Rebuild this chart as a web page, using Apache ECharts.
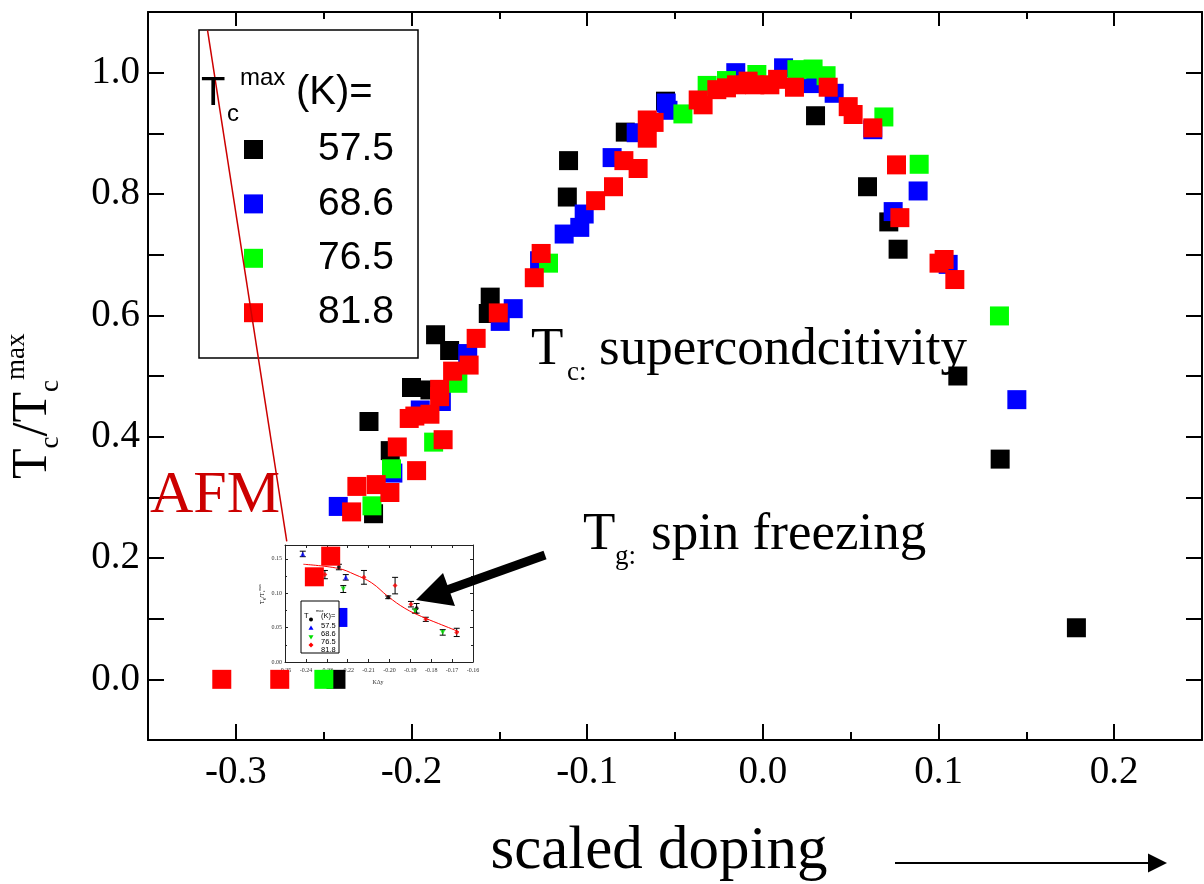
<!DOCTYPE html>
<html>
<head>
<meta charset="utf-8">
<script src="https://cdn.jsdelivr.net/npm/echarts@6/dist/echarts.min.js"></script>
<style>
  html, body { margin: 0; padding: 0; background: #fff; }
  #chart { width: 1204px; height: 884px; }
</style>
</head>
<body>
<div id="chart"></div>
<script>
// ---- main panel: Tc / Tc_max versus scaled doping, one array per Tc_max (K) ----
const seriesNames = ['57.5', '68.6', '76.5', '81.8'];
const seriesColors = ['#000000', '#0000ff', '#00ff00', '#ff0000'];

const pts575 = [
  [-0.243, 0.000], [-0.2216, 0.273], [-0.2121, 0.377], [-0.2242, 0.425], [-0.2000, 0.481], [-0.1895, 0.477],
  [-0.1863, 0.568], [-0.1783, 0.542], [-0.1563, 0.603], [-0.1552, 0.630], [-0.1113, 0.795], [-0.1106, 0.855],
  [-0.0783, 0.902], [-0.0554, 0.953], [0.0300, 0.929], [0.0596, 0.812], [0.0717, 0.754], [0.0770, 0.709],
  [0.1110, 0.500], [0.1351, 0.363], [0.1785, 0.085]
];
const pts686 = [
  [-0.2419, 0.102], [-0.2417, 0.285], [-0.2106, 0.340], [-0.1950, 0.444], [-0.1830, 0.458], [-0.1680, 0.537],
  [-0.1495, 0.590], [-0.1421, 0.611], [-0.1271, 0.690], [-0.1131, 0.734], [-0.1042, 0.745], [-0.1017, 0.767],
  [-0.0858, 0.860], [-0.0721, 0.901], [-0.0550, 0.950], [-0.0540, 0.938], [-0.0154, 1.000], [0.0118, 1.008],
  [0.0280, 0.982], [0.0406, 0.966], [0.0626, 0.906], [0.0742, 0.771], [0.0884, 0.805], [0.1055, 0.684],
  [0.1446, 0.461]
];
const pts765 = [
  [-0.2499, 0.000], [-0.2225, 0.286], [-0.2114, 0.347], [-0.1874, 0.391], [-0.1736, 0.488], [-0.1220, 0.686],
  [-0.0455, 0.932], [-0.0317, 0.979], [-0.0207, 0.987], [-0.0034, 0.997], [0.0194, 1.005], [0.0286, 1.006],
  [0.0360, 0.995], [0.0689, 0.927], [0.0890, 0.849], [0.1347, 0.599]
];
const pts818 = [
  [-0.308, 0.000], [-0.275, 0.000], [-0.2553, 0.169], [-0.2460, 0.203], [-0.2341, 0.276], [-0.2311, 0.318],
  [-0.2201, 0.321], [-0.2123, 0.308], [-0.2081, 0.383], [-0.1971, 0.344], [-0.2013, 0.430], [-0.1981, 0.434],
  [-0.1895, 0.437], [-0.1820, 0.395], [-0.1840, 0.478], [-0.1840, 0.466], [-0.1766, 0.508], [-0.1672, 0.518],
  [-0.1632, 0.562], [-0.1506, 0.604], [-0.1301, 0.662], [-0.1262, 0.702], [-0.0952, 0.789], [-0.0850, 0.812],
  [-0.0791, 0.855], [-0.0710, 0.842], [-0.0658, 0.892], [-0.0658, 0.922], [-0.0619, 0.918], [-0.0368, 0.955],
  [-0.0340, 0.947], [-0.0262, 0.972], [-0.0207, 0.975], [-0.0150, 0.980], [-0.0084, 0.986], [-0.0046, 0.980],
  [0.0040, 0.980], [0.0084, 0.989], [0.0180, 0.976], [0.0372, 0.976], [0.0486, 0.944], [0.0514, 0.931],
  [0.0626, 0.909], [0.0761, 0.848], [0.0780, 0.761], [0.1003, 0.686], [0.1032, 0.692], [0.1093, 0.659]
];
const seriesPoints = [pts575, pts686, pts765, pts818];

// AFM boundary line (doping, Tc/Tc_max)
const afmBoundary = [[-0.3161, 1.0697], [-0.2710, 0.2275]];

// tick labels
const xMajorTicks = [-0.3, -0.2, -0.1, 0.0, 0.1, 0.2];
const yMajorTicks = [0.0, 0.2, 0.4, 0.6, 0.8, 1.0];

// ---- inset: Tg / Tc_max versus K*dy, [x, y, error] ----
const insetBlack = [[-0.2242, 0.138, 0.004], [-0.2006, 0.094, 0.002], [-0.1870, 0.078, 0.007]];
const insetBlue  = [[-0.2415, 0.157, 0.004], [-0.2209, 0.123, 0.004]];
const insetGreen = [[-0.2221, 0.106, 0.005], [-0.1878, 0.074, 0.003], [-0.1745, 0.043, 0.004]];
const insetRed   = [[-0.2309, 0.127, 0.006], [-0.2122, 0.123, 0.010], [-0.1973, 0.111, 0.012],
                    [-0.1897, 0.084, 0.004], [-0.1826, 0.062, 0.003], [-0.1678, 0.043, 0.006]];
const insetFit   = [[-0.2412, 0.142], [-0.2245, 0.136], [-0.2165, 0.127], [-0.2085, 0.115], [-0.2006, 0.095],
                    [-0.1926, 0.078], [-0.1846, 0.066], [-0.1766, 0.056], [-0.1667, 0.044]];

const SERIF = '"Liberation Serif", "Times New Roman", serif';
const SANS = '"Liberation Sans", Arial, sans-serif';

function near(list, v) { return list.some(m => Math.abs(m - v) < 1e-6); }

// text placed by its baseline
function txt(x, baseline, s, fs, family, color, align) {
  const k = family === SANS ? 0.346 : 0.338;
  return {
    type: 'text', x: x, y: baseline - k * fs, silent: true,
    style: {
      text: s, fontSize: fs, fontFamily: family, fill: color || '#000',
      align: align || 'left', verticalAlign: 'middle',
      textAlign: align || 'left', textVerticalAlign: 'middle'
    }
  };
}

const chart = echarts.init(document.getElementById('chart'), null, { renderer: 'canvas' });

// main plot box
const box = { left: 148, right: 2, top: 12, bottom: 144 };
const mainX = { min: -0.35, max: 0.25 };
const mainY = { min: -0.1, max: 1.1 };
// a second grid spans only the labelled range [-0.3, 0.2] so that its
// interval-0.1 ticks land on the labelled values of the main axis
const pxPerUnit = (1204 - box.left - box.right) / (mainX.max - mainX.min);
const majorBox = {
  left: box.left + (xMajorTicks[0] - mainX.min) * pxPerUnit,
  right: box.right + (mainX.max - xMajorTicks[xMajorTicks.length - 1]) * pxPerUnit,
  top: box.top, bottom: box.bottom
};
const blackLine = { color: '#000', width: 2 };

const xAxes = [
  { // 0 bottom: frame line and short ticks every 0.05
    gridIndex: 0, type: 'value', position: 'bottom', min: mainX.min, max: mainX.max, interval: 0.05,
    axisLine: { show: true, onZero: false, lineStyle: blackLine },
    axisTick: { show: true, inside: true, length: 8, lineStyle: blackLine },
    axisLabel: { show: false }, splitLine: { show: false }
  },
  { // 1 top: frame line and short ticks
    gridIndex: 0, type: 'value', position: 'top', min: mainX.min, max: mainX.max, interval: 0.05,
    axisLine: { show: true, onZero: false, lineStyle: blackLine },
    axisTick: { show: true, inside: true, length: 7, lineStyle: blackLine },
    axisLabel: { show: false }, splitLine: { show: false }
  },
  { // 2 inset bottom
    gridIndex: 1, type: 'value', position: 'bottom', min: -0.25, max: -0.16, interval: 0.01,
    axisLine: { show: true, onZero: false, lineStyle: { color: '#222', width: 1 } },
    axisTick: { show: true, inside: true, length: 3, lineStyle: { color: '#222', width: 1 } },
    axisLabel: { margin: 5, fontFamily: SERIF, fontSize: 6, color: '#333', formatter: v => v.toFixed(2) },
    splitLine: { show: false }
  },
  { // 3 inset top
    gridIndex: 1, type: 'value', position: 'top', min: -0.25, max: -0.16, interval: 0.01,
    axisLine: { show: true, onZero: false, lineStyle: { color: '#222', width: 1 } },
    axisTick: { show: true, inside: true, length: 3, lineStyle: { color: '#222', width: 1 } },
    axisLabel: { show: false }, splitLine: { show: false }
  },
  { // 4 bottom labelled ticks
    gridIndex: 2, type: 'value', position: 'bottom',
    min: xMajorTicks[0], max: xMajorTicks[xMajorTicks.length - 1], interval: 0.1,
    axisLine: { show: false, onZero: false },
    axisTick: { show: true, inside: true, length: 16, lineStyle: blackLine },
    axisLabel: {
      margin: 13, fontFamily: SERIF, fontSize: 39, color: '#000',
      formatter: v => near(xMajorTicks, v) ? (Math.abs(v) < 1e-9 ? '0.0' : v.toFixed(1)) : ''
    },
    splitLine: { show: false }
  },
  { // 5 top long ticks
    gridIndex: 2, type: 'value', position: 'top',
    min: xMajorTicks[0], max: xMajorTicks[xMajorTicks.length - 1], interval: 0.1,
    axisLine: { show: false, onZero: false },
    axisTick: { show: true, inside: true, length: 14, lineStyle: blackLine },
    axisLabel: { show: false }, splitLine: { show: false }
  }
];

const yAxes = [
  {
    gridIndex: 0, type: 'value', position: 'left', min: mainY.min, max: mainY.max, interval: 0.1,
    axisLine: { show: true, onZero: false, lineStyle: blackLine },
    axisTick: { show: true, inside: true, length: 16, lineStyle: blackLine },
    axisLabel: {
      margin: 8, fontFamily: SERIF, fontSize: 39, color: '#000',
      formatter: v => near(yMajorTicks, v) ? v.toFixed(1) : ''
    },
    splitLine: { show: false }
  },
  {
    gridIndex: 0, type: 'value', position: 'right', min: mainY.min, max: mainY.max, interval: 0.1,
    axisLine: { show: true, onZero: false, lineStyle: blackLine },
    axisTick: { show: true, inside: true, length: 16, lineStyle: blackLine },
    axisLabel: { show: false }, splitLine: { show: false }
  },
  {
    gridIndex: 1, type: 'value', position: 'left', min: 0, max: 0.17, interval: 0.05,
    axisLine: { show: true, onZero: false, lineStyle: { color: '#222', width: 1 } },
    axisTick: { show: true, inside: true, length: 3, lineStyle: { color: '#222', width: 1 } },
    minorTick: { show: true, splitNumber: 2, length: 2, lineStyle: { color: '#222', width: 1 } },
    axisLabel: { margin: 3, fontFamily: SERIF, fontSize: 6, color: '#333', showMaxLabel: false, formatter: v => v.toFixed(2) },
    splitLine: { show: false }
  },
  {
    gridIndex: 1, type: 'value', position: 'right', min: 0, max: 0.17, interval: 0.05,
    axisLine: { show: true, onZero: false, lineStyle: { color: '#222', width: 1 } },
    axisTick: { show: true, inside: true, length: 3, lineStyle: { color: '#222', width: 1 } },
    minorTick: { show: true, splitNumber: 2, length: 2, lineStyle: { color: '#222', width: 1 } },
    axisLabel: { show: false }, splitLine: { show: false }
  },
  { // placeholder for the labelled-tick grid
    gridIndex: 2, type: 'value', show: false, min: mainY.min, max: mainY.max
  }
];

const series = [];
seriesNames.forEach((name, i) => {
  series.push({
    name: name, type: 'scatter', xAxisIndex: 0, yAxisIndex: 0,
    data: seriesPoints[i], symbol: 'rect', symbolSize: 19,
    itemStyle: { color: seriesColors[i], opacity: 1 }, z: 5, silent: true
  });
});
series.push({
  name: 'AFM boundary', type: 'line', xAxisIndex: 0, yAxisIndex: 0, data: afmBoundary,
  symbol: 'none', lineStyle: { color: '#cc0000', width: 1.5 }, z: 6, silent: true
});

// inset series
series.push({
  name: 'fit', type: 'line', xAxisIndex: 2, yAxisIndex: 2, data: insetFit, smooth: 0.4,
  symbol: 'none', lineStyle: { color: '#ff0000', width: 1 }, z: 3, silent: true
});
series.push({
  name: 'error', type: 'custom', xAxisIndex: 2, yAxisIndex: 2, z: 3, silent: true,
  data: [].concat(insetBlack, insetBlue, insetGreen, insetRed),
  dimensions: ['x', 'y', 'err'], encode: { x: 0, y: 1 },
  renderItem: (params, api) => {
    const x = api.value(0), y = api.value(1), e = api.value(2);
    const top = api.coord([x, y + e]);
    const bot = api.coord([x, y - e]);
    const st = { stroke: '#000', lineWidth: 1 };
    return {
      type: 'group', children: [
        { type: 'line', shape: { x1: top[0], y1: top[1], x2: bot[0], y2: bot[1] }, style: st },
        { type: 'line', shape: { x1: top[0] - 3, y1: top[1], x2: top[0] + 3, y2: top[1] }, style: st },
        { type: 'line', shape: { x1: bot[0] - 3, y1: bot[1], x2: bot[0] + 3, y2: bot[1] }, style: st }
      ]
    };
  }
});
const insetSyms = [
  { d: insetBlack, c: '#000000', s: 'circle', size: 4, r: 0 },
  { d: insetBlue, c: '#0000ff', s: 'triangle', size: 5, r: 0 },
  { d: insetGreen, c: '#00dd00', s: 'triangle', size: 5, r: 180 },
  { d: insetRed, c: '#ff0000', s: 'diamond', size: 5, r: 0 }
];
insetSyms.forEach((o, i) => {
  series.push({
    name: 'inset' + i, type: 'scatter', xAxisIndex: 2, yAxisIndex: 2,
    data: o.d.map(p => [p[0], p[1]]), symbol: o.s, symbolSize: o.size, symbolRotate: o.r,
    itemStyle: { color: o.c }, z: 4, silent: true
  });
});

// rotated text helper: pieces [u, vBaseline, text, fontSize]
function rotatedLabel(ox, oy, pieces, family) {
  return {
    type: 'group', x: ox, y: oy, rotation: Math.PI / 2, silent: true, z: 20,
    children: pieces.map(p => txt(p[0], p[1], p[2], p[3], family, '#000'))
  };
}

const graphics = [
  // legend frame and heading
  { type: 'rect', shape: { x: 199, y: 30, width: 219, height: 328 }, style: { fill: 'none', stroke: '#000', lineWidth: 1.5 }, z: 1, silent: true },
  Object.assign(txt(201, 108, 'T', 40, SANS), { z: 20 }),
  Object.assign(txt(227, 123, 'c', 24, SANS), { z: 20 }),
  Object.assign(txt(240, 87, 'max', 24, SANS), { z: 20 }),
  Object.assign(txt(296, 107, '(K)=', 40, SANS), { z: 20 }),

  // annotations
  Object.assign(txt(150, 517, 'AFM', 60, SERIF, '#cc0000'), { z: 20 }),
  Object.assign(txt(531, 368, 'T', 53, SERIF), { z: 20 }),
  Object.assign(txt(567, 382, 'c:', 27, SERIF), { z: 20 }),
  Object.assign(txt(599, 368, 'supercondcitivity', 53, SERIF), { z: 20 }),
  Object.assign(txt(583, 553, 'T', 53, SERIF), { z: 20 }),
  Object.assign(txt(615, 566, 'g:', 27, SERIF), { z: 20 }),
  Object.assign(txt(651, 553, 'spin freezing', 53, SERIF), { z: 20 }),

  // arrow pointing at the spin-freezing data
  { type: 'line', shape: { x1: 545, y1: 555, x2: 447, y2: 590 }, style: { stroke: '#000', lineWidth: 9 }, z: 20, silent: true },
  { type: 'polygon', shape: { points: [[416, 600], [443, 573], [455, 606]] }, style: { fill: '#000' }, z: 20, silent: true },

  // x-axis title with arrow
  Object.assign(txt(659, 873, 'scaled doping', 61, SERIF, '#000', 'center'), { z: 20 }),
  { type: 'line', shape: { x1: 895, y1: 863, x2: 1150, y2: 863 }, style: { stroke: '#000', lineWidth: 2 }, z: 20, silent: true },
  { type: 'polygon', shape: { points: [[1167, 863], [1148, 853.5], [1148, 872.5]] }, style: { fill: '#000' }, z: 20, silent: true },

  // y-axis title  T_c / T_c^max
  rotatedLabel(50, 479, [
    [0, 0, 'T', 50], [30.6, 10, 'c', 27], [42.6, 0, '/', 50], [56.5, 0, 'T', 50],
    [87.1, 10, 'c', 27], [99.1, -24, 'max', 27]
  ], SERIF),

  // inset legend
  { type: 'rect', shape: { x: 301, y: 601, width: 38, height: 52 }, style: { fill: '#fff', stroke: '#000', lineWidth: 1 }, z: 30, silent: true },
  Object.assign(txt(304, 619, 'T', 7.5, SANS), { z: 31 }),
  Object.assign(txt(316, 612, 'max', 4, SANS), { z: 31 }),
  Object.assign(txt(321, 619, '(K)=', 7.5, SANS), { z: 31 }),
  Object.assign(txt(321, 629, '57.5', 7.5, SANS), { z: 31 }),
  Object.assign(txt(321, 637, '68.6', 7.5, SANS), { z: 31 }),
  Object.assign(txt(321, 645, '76.5', 7.5, SANS), { z: 31 }),
  Object.assign(txt(321, 653, '81.8', 7.5, SANS), { z: 31 }),
  { type: 'circle', shape: { cx: 311, cy: 619.5, r: 2 }, style: { fill: '#000' }, z: 31, silent: true },
  { type: 'polygon', shape: { points: [[311, 625.5], [308.5, 629.8], [313.5, 629.8]] }, style: { fill: '#0000ff' }, z: 31, silent: true },
  { type: 'polygon', shape: { points: [[311, 639.5], [308.5, 635.2], [313.5, 635.2]] }, style: { fill: '#00dd00' }, z: 31, silent: true },
  { type: 'polygon', shape: { points: [[311, 642.5], [313.5, 645], [311, 647.5], [308.5, 645]] }, style: { fill: '#ff0000' }, z: 31, silent: true },

  // inset axis titles
  rotatedLabel(264, 604, [
    [0, 0, 'T', 6], [3.7, 1.5, 'g', 4], [6, 0, '/T', 6], [11.7, 1.5, 'c', 4], [13.6, -3, 'max', 3.5]
  ], SERIF),
  Object.assign(txt(378, 684, 'KΔy', 6, SERIF, '#333', 'center'), { z: 20 })
];

chart.setOption({
  animation: false,
  backgroundColor: '#ffffff',
  grid: [
    Object.assign({ containLabel: false }, box),
    { left: 285, top: 545, width: 188, height: 117, containLabel: false },
    Object.assign({ containLabel: false }, majorBox)
  ],
  legend: {
    data: seriesNames, orient: 'vertical', left: 244, top: 129.5, padding: 0,
    itemWidth: 19, itemHeight: 19, itemGap: 14.4, icon: 'rect', selectedMode: false,
    textStyle: { fontFamily: SANS, fontSize: 39, lineHeight: 40, color: '#000', padding: [0, 0, 0, 50] }
  },
  xAxis: xAxes,
  yAxis: yAxes,
  series: series,
  graphic: { elements: graphics }
});
</script>
</body>
</html>
